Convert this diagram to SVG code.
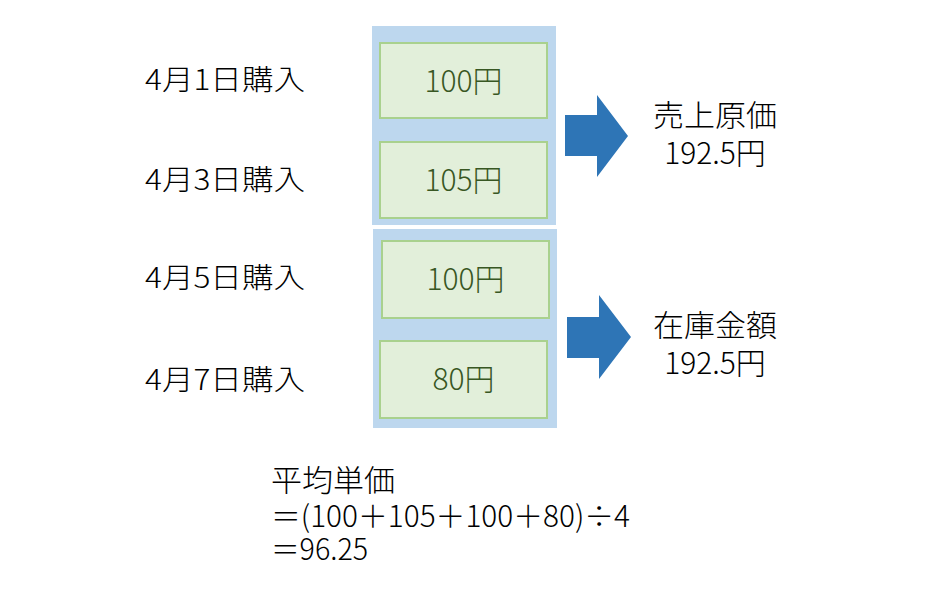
<svg xmlns="http://www.w3.org/2000/svg" width="935" height="615" viewBox="0 0 935 615">
<style>
text{font-family:"Noto Sans CJK JP","Noto Sans CJK SC",sans-serif;fill:#000;font-weight:300}
.grp{fill:#BDD7EE}
.box{fill:#E2EFDA;stroke:#A9D18E;stroke-width:2}
.val{font-size:30px;fill:#385723;text-anchor:middle}
.lbl{font-size:28px}
.res{font-size:30px;text-anchor:middle}
.frm{font-size:30px}
.arr{fill:#2E75B6}
</style>
<rect width="935" height="615" fill="#fff"/>
<g id="group-upper"><rect class="grp" x="372" y="26" width="184" height="199"/></g>
<g id="group-lower"><rect class="grp" x="373" y="229" width="184" height="199"/></g>
<g id="box1"><rect class="box" x="380" y="43" width="167" height="75"/><text class="val" x="463.5" y="92">100円</text></g>
<g id="box2"><rect class="box" x="380" y="142" width="167" height="76"/><text class="val" x="463.5" y="191">105円</text></g>
<g id="box3"><rect class="box" x="382" y="241" width="167" height="77"/><text class="val" x="465.5" y="290">100円</text></g>
<g id="box4"><rect class="box" x="380" y="341" width="167" height="77"/><text class="val" x="463.5" y="390">80円</text></g>
<g id="label1"><text class="lbl" x="145" y="90" textLength="160" lengthAdjust="spacingAndGlyphs">4月1日購入</text></g>
<g id="label2"><text class="lbl" x="145" y="190" textLength="160" lengthAdjust="spacingAndGlyphs">4月3日購入</text></g>
<g id="label3"><text class="lbl" x="145" y="288" textLength="160" lengthAdjust="spacingAndGlyphs">4月5日購入</text></g>
<g id="label4"><text class="lbl" x="145" y="390" textLength="160" lengthAdjust="spacingAndGlyphs">4月7日購入</text></g>
<g id="connectors">
<polygon class="arr" points="565,115 597,115 597,95 628,136 597,177 597,156 565,156"/>
<polygon class="arr" points="567,317 599,317 599,295 631,337 599,379 599,358 567,358"/>
</g>
<g id="result-cogs"><text class="res" x="715" y="126" textLength="124" lengthAdjust="spacingAndGlyphs">売上原価</text><text class="res" x="715" y="164">192.5円</text></g>
<g id="result-inventory"><text class="res" x="715" y="336" textLength="124" lengthAdjust="spacingAndGlyphs">在庫金額</text><text class="res" x="715" y="374">192.5円</text></g>
<g id="formula">
<text class="frm" x="271" y="491" textLength="124" lengthAdjust="spacingAndGlyphs">平均単価</text>
<text class="frm" x="271" y="527" textLength="359" lengthAdjust="spacingAndGlyphs">＝(100＋105＋100＋80)÷4</text>
<text class="frm" x="271" y="560" textLength="97" lengthAdjust="spacingAndGlyphs">＝96.25</text>
</g>
</svg>
